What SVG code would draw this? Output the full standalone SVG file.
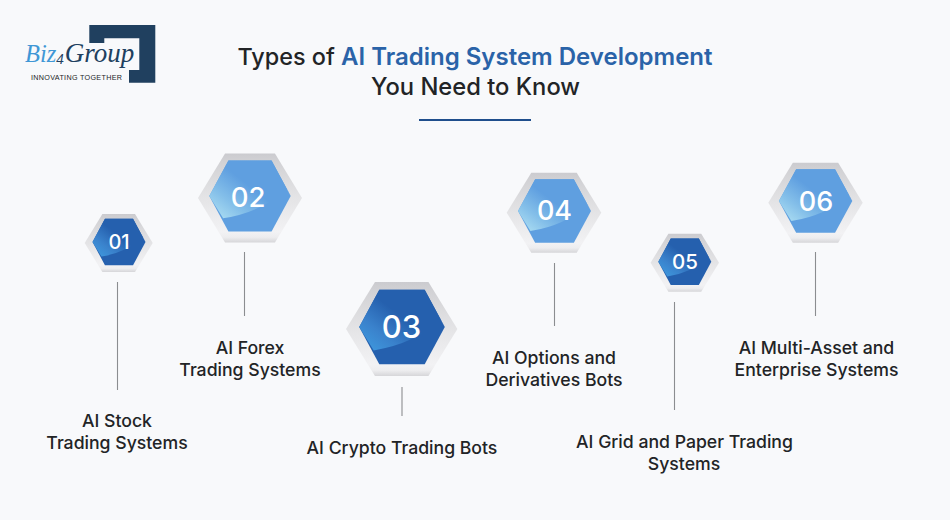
<svg xmlns="http://www.w3.org/2000/svg" xmlns:xlink="http://www.w3.org/1999/xlink" width="950" height="520" viewBox="0 0 950 520">
<style>
.t{font-family:Inter,"Liberation Sans",sans-serif;font-weight:500;fill:#222426;text-anchor:middle}
.h{font-size:23.75px}
.l{font-size:17.65px}
.n{font-family:Inter,"Liberation Sans",sans-serif;font-weight:500;fill:#fff;text-anchor:middle}
.c line{stroke:#8b8d90;stroke-width:1.1}
.o{fill:url(#ring)}
.dk{fill:#2560ae}
.lt{fill:#5f9fe0}
.dks{fill:url(#swd)}
.lts{fill:url(#swl)}
</style>
<defs>
<linearGradient id="ring" x1="0" y1="0" x2="0" y2="1">
<stop offset="0" stop-color="#cbcbcf"/><stop offset=".1" stop-color="#d2d2d5"/><stop offset=".5" stop-color="#e4e4e6"/><stop offset=".88" stop-color="#f2f2f4"/><stop offset=".94" stop-color="#ededef"/><stop offset="1" stop-color="#d6d6d9"/>
</linearGradient>
<linearGradient id="swd" x1="0" y1="1" x2="1" y2="0.1">
<stop offset="0" stop-color="#3f9ee2"/><stop offset=".28" stop-color="#3a82cc"/><stop offset=".55" stop-color="#2560ae"/>
</linearGradient>
<linearGradient id="swl" x1="0" y1="1" x2="1" y2="0.1">
<stop offset="0" stop-color="#b4e4f4"/><stop offset=".28" stop-color="#84bfe9"/><stop offset=".55" stop-color="#5f9fe0"/>
</linearGradient>
<polygon id="ho" points="-100,0 -48,-100 48,-100 100,0 48,100 -48,100"/>
<polygon id="hi" points="-100,0 -53,-100 53,-100 100,0 53,100 -53,100"/>
<path id="hs" d="M-100,0 L-53,-100 L53,-100 L100,0 L90,-20 Q30,45 -66,63 Z"/>
</defs>
<rect width="950" height="520" fill="#f8f9fb"/>
<g id="logo">
<polygon points="89.3,25 155.3,25 155.3,82.7 129,82.7 129,70 139.3,70 139.3,38.3 104.3,38.3 104.3,43 89.3,43" fill="#20405f"/>
<text x="25" y="62" font-family="Liberation Serif,serif" font-style="italic"><tspan font-size="24.5" fill="#3f97d6">Biz</tspan><tspan font-size="15" fill="#20405f" dy="2">4</tspan><tspan font-size="27" fill="#20405f" dx="1" dy="-2">Group</tspan></text>
<text x="31" y="80" font-family="Liberation Sans,sans-serif" font-size="7.2" fill="#222426" textLength="91">INNOVATING TOGETHER</text>
</g>
<g id="title">
<text class="t h" x="475" y="65"><tspan font-size="23.4">Types of </tspan><tspan fill="#2a63a8" font-weight="600" font-size="24">AI Trading System Development</tspan></text>
<text class="t h" x="475.5" y="95">You Need to Know</text>
<line x1="419" y1="120" x2="531" y2="120" stroke="#1f4e8c" stroke-width="2"/>
</g>
<g id="connectors" class="c">
<line x1="117.5" y1="282" x2="117.5" y2="390"/>
<line x1="244.5" y1="252" x2="244.5" y2="316"/>
<line x1="402" y1="387" x2="402" y2="416"/>
<line x1="554.5" y1="263" x2="554.5" y2="326"/>
<line x1="674.5" y1="302" x2="674.5" y2="410"/>
<line x1="815.5" y1="252" x2="815.5" y2="316"/>
</g>
<g id="node-01">
<use href="#ho" class="o" transform="translate(118.7,243) scale(.34,.29)"/>
<use href="#hi" class="dk" transform="translate(119,242) scale(.265,.232)"/>
<use href="#hs" class="dks" transform="translate(119,242) scale(.265,.232)"/>
<text class="n" x="119" y="249" font-size="20">01</text>
<text class="t l" x="117" y="427">AI Stock</text>
<text class="t l" x="117" y="449">Trading Systems</text>
</g>
<g id="node-02">
<use href="#ho" class="o" transform="translate(250,198) scale(.52,.445)"/>
<use href="#hi" class="lt" transform="translate(250,196) scale(.407,.355)"/>
<use href="#hs" class="lts" transform="translate(250,196) scale(.407,.355)"/>
<text class="n" x="248" y="207" font-size="27.5">02</text>
<text class="t l" x="250" y="354">AI Forex</text>
<text class="t l" x="250" y="376">Trading Systems</text>
</g>
<g id="node-03">
<use href="#ho" class="o" transform="translate(401.7,329) scale(.557,.47)"/>
<use href="#hi" class="dk" transform="translate(402,327) scale(.428,.372)"/>
<use href="#hs" class="dks" transform="translate(402,327) scale(.428,.372)"/>
<text class="n" x="401.5" y="338" font-size="31">03</text>
<text class="t l" x="402" y="454">AI Crypto Trading Bots</text>
</g>
<g id="node-04">
<use href="#ho" class="o" transform="translate(554,212.7) scale(.473,.40)"/>
<use href="#hi" class="lt" transform="translate(554.5,211) scale(.365,.318)"/>
<use href="#hs" class="lts" transform="translate(554.5,211) scale(.365,.318)"/>
<text class="n" x="554.5" y="220" font-size="27">04</text>
<text class="t l" x="554" y="364">AI Options and</text>
<text class="t l" x="554" y="386">Derivatives Bots</text>
</g>
<g id="node-05">
<use href="#ho" class="o" transform="translate(684.8,262.7) scale(.342,.29)"/>
<use href="#hi" class="dk" transform="translate(684.8,261.8) scale(.265,.232)"/>
<use href="#hs" class="dks" transform="translate(684.8,261.8) scale(.265,.232)"/>
<text class="n" x="685" y="269" font-size="20.5">05</text>
<text class="t l" x="684.5" y="448">AI Grid and Paper Trading</text>
<text class="t l" x="684" y="470">Systems</text>
</g>
<g id="node-06">
<use href="#ho" class="o" transform="translate(815.5,202.7) scale(.472,.40)"/>
<use href="#hi" class="lt" transform="translate(815.6,201) scale(.367,.318)"/>
<use href="#hs" class="lts" transform="translate(815.6,201) scale(.367,.318)"/>
<text class="n" x="816" y="211" font-size="27">06</text>
<text class="t l" x="816.5" y="354">AI Multi-Asset and</text>
<text class="t l" x="816.5" y="376">Enterprise Systems</text>
</g>
</svg>
